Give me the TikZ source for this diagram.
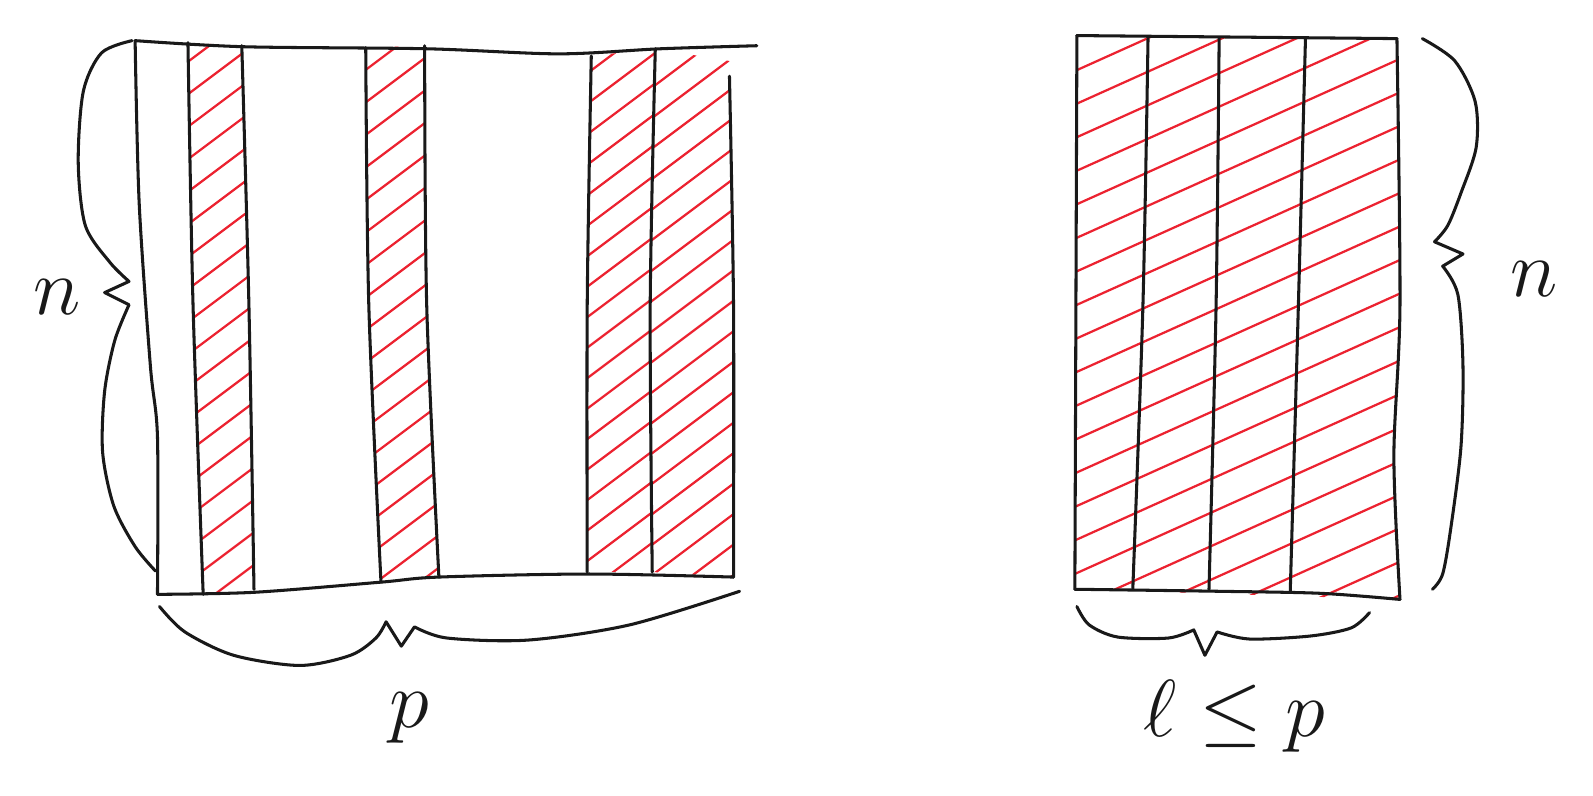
\documentclass[tikz,border=0pt]{standalone}
\begin{document}
\definecolor{hred}{RGB}{236,34,48}
\definecolor{inkc}{RGB}{25,25,25}
\begin{tikzpicture}[x=0.5pt,y=-0.5pt,
  ink/.style={line width=1.5pt, line cap=round, line join=round, inkc},
  hatch/.style={line width=1.1pt, line cap=round, hred},
  lbl/.style={font=\Huge, inner sep=0pt, inkc, scale=1.6, transform shape}]
\useasboundingbox (0,0) rectangle (1568,783);
\fill[white] (0,0) rectangle (1568,783);

% ---------- left matrix: hatching ----------
\begin{scope}
\clip (185,42) -- (238,45) -- (245,300) -- (250,580) -- (200,585) -- (190,300) -- cycle;
\foreach \y in {72,104,...,700} \draw[hatch] (170,\y) -- ++(120,-90);
\end{scope}
\begin{scope}
\clip (360,47) -- (418,45) -- (420,300) -- (432,568) -- (375,573) -- (363,300) -- cycle;
\foreach \y in {80,112,...,700} \draw[hatch] (345,\y) -- ++(120,-90);
\end{scope}
\begin{scope}
\clip (582,55) -- (645,48) -- (640,300) -- (642,563) -- (578,563) -- (578,300) -- cycle;
\foreach \y in {82,112,...,700} \draw[hatch] (565,\y) -- ++(120,-90);
\end{scope}
\begin{scope}
\clip (645,48) -- (718,60) -- (722,300) -- (722,568) -- (642,563) -- (640,300) -- cycle;
\foreach \y in {95,125,...,720} \draw[hatch] (630,\y) -- ++(120,-90);
\end{scope}

% ---------- left matrix: lines ----------
\draw[ink] plot[smooth] coordinates {(133,40) (240,46) (420,48) (550,53) (650,48) (745,45)};
\draw[ink] plot[smooth] coordinates {(133,40) (137,200) (148,360) (155,430) (155,585)};
\draw[ink] plot[smooth] coordinates {(155,585) (250,583) (375,573) (432,568) (580,565) (722,568)};
\draw[ink] plot[smooth] coordinates {(185,42) (190,300) (200,585)};
\draw[ink] plot[smooth] coordinates {(238,45) (245,300) (250,580)};
\draw[ink] plot[smooth] coordinates {(360,47) (363,300) (375,573)};
\draw[ink] plot[smooth] coordinates {(418,45) (420,300) (432,568)};
\draw[ink] plot[smooth] coordinates {(582,55) (578,300) (578,563)};
\draw[ink] plot[smooth] coordinates {(645,48) (640,300) (642,563)};
\draw[ink] plot[smooth] coordinates {(718,75) (722,300) (722,568)};

% ---------- left braces ----------
\draw[ink] plot[smooth] coordinates {(130,40) (100,52) (82,90) (77,160) (84,222) (108,258) (127,277)}
  -- (103,288) -- (127,300)
  -- plot[smooth] coordinates {(127,300) (113,335) (103,385) (101,445) (112,498) (133,538) (153,562)};
\draw[ink] plot[smooth] coordinates {(157,597) (182,622) (230,645) (295,655) (345,645) (370,628) (380,612)}
  -- (395,636) -- (408,617)
  -- plot[smooth] coordinates {(408,617) (440,628) (520,630) (620,615) (728,582)};

% ---------- right matrix: hatching ----------
\begin{scope}
\clip (1060,35) -- (1375,38) -- (1378,300) -- (1372,450) -- (1378,590) -- (1058,580) -- cycle;
\foreach \y in {45,78,...,760} \draw[hatch] (1040,\y) -- ++(360,-162);
\end{scope}

% ---------- right matrix: lines ----------
\draw[ink] (1060,35) -- (1375,38);
\draw[ink] (1060,35) -- (1058,580);
\draw[ink] plot[smooth] coordinates {(1058,580) (1200,582) (1300,584) (1378,590)};
\draw[ink] plot[smooth] coordinates {(1375,38) (1378,300) (1372,450) (1378,590)};
\draw[ink] plot[smooth] coordinates {(1130,38) (1125,300) (1115,580)};
\draw[ink] plot[smooth] coordinates {(1200,37) (1197,300) (1190,580)};
\draw[ink] plot[smooth] coordinates {(1285,37) (1278,300) (1270,582)};

% ---------- right braces ----------
\draw[ink] plot[smooth] coordinates {(1400,38) (1432,60) (1452,100) (1453,145) (1438,190) (1425,222) (1412,238)}
  -- (1440,250) -- (1420,262)
  -- plot[smooth] coordinates {(1420,262) (1435,290) (1440,360) (1438,440) (1428,520) (1420,565) (1410,580)};
\draw[ink] plot[smooth] coordinates {(1060,597) (1072,615) (1100,627) (1150,628) (1175,620)}
  -- (1186,645) -- (1198,622)
  -- plot[smooth] coordinates {(1198,622) (1230,629) (1290,626) (1330,618) (1348,603)};

% ---------- labels ----------
\node[lbl] (nl) at (56,292) {$n$};
\node[lbl] (pl) at (403,707) {$p$};
\node[lbl] (nr) at (1510,275) {$n$};
\node[lbl] (lp) at (1215,705) {$\ell\le p$};
\end{tikzpicture}
\end{document}
